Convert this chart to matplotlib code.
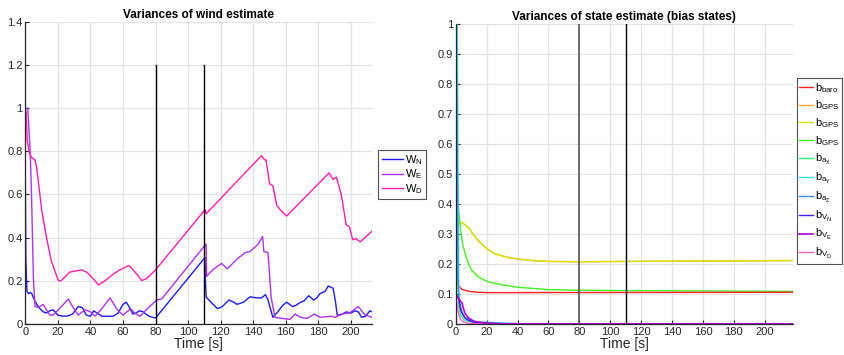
import numpy as np
import matplotlib
matplotlib.use("Agg")
import matplotlib.pyplot as plt

plt.rcParams['font.family'] = ['Liberation Sans', 'DejaVu Sans']
plt.rcParams['mathtext.fontset'] = 'custom'
plt.rcParams['mathtext.rm'] = 'Liberation Sans'
plt.rcParams['mathtext.it'] = 'Liberation Sans'

# ---- wind variances (left) ----
t_wn = [0, 0.3, 1, 2, 3, 4, 5, 7, 9, 11, 13, 15, 17, 20, 23, 26, 29, 32.5, 35, 37.5, 40, 42, 44, 47, 50, 54,
        57, 60, 62, 64, 66, 68, 70, 72.5, 74, 76, 78, 80, 110.3, 110.6, 111, 114, 118, 121, 125, 128, 130,
        134, 138, 142, 145, 147.5, 149, 150.5, 152, 155, 158, 160.5, 164, 166, 169, 171, 174, 177, 179, 181,
        184, 186, 188, 189, 190.5, 191.5, 194, 197, 200, 202.5, 204.5, 206.5, 209, 211.5, 213]
w_n = [0.68, 0.3, 0.15, 0.14, 0.145, 0.14, 0.12, 0.09, 0.07, 0.055, 0.05, 0.06, 0.065, 0.04, 0.035, 0.036,
       0.045, 0.08, 0.075, 0.04, 0.035, 0.06, 0.05, 0.035, 0.035, 0.035, 0.05, 0.09, 0.1, 0.075, 0.045,
       0.05, 0.06, 0.055, 0.045, 0.035, 0.03, 0.027, 0.307, 0.2, 0.125, 0.1, 0.07, 0.08, 0.11, 0.1, 0.09,
       0.1, 0.125, 0.12, 0.12, 0.135, 0.11, 0.07, 0.03, 0.055, 0.085, 0.1, 0.08, 0.085, 0.1, 0.105, 0.13,
       0.11, 0.12, 0.14, 0.15, 0.175, 0.168, 0.165, 0.1, 0.04, 0.042, 0.055, 0.05, 0.06, 0.055, 0.03,
       0.035, 0.06, 0.055]

t_we = [0, 1.5, 3, 3.8, 5, 6, 8, 11, 15, 17, 21, 26.4, 29, 32.5, 36.6, 40, 42.8, 47, 52, 56, 60, 64.7,
        67, 70.4, 75, 80.6, 83.7, 111, 111.3, 115, 120.5, 124, 130, 135, 138, 143, 145.7, 146.5, 149,
        151, 153.3, 157.5, 162.5, 165.6, 169, 173, 177.4, 181, 187.6, 190.5, 194, 199, 204.5, 208.6, 213]
w_e = [1.0, 1.0, 0.8, 0.6, 0.2, 0.08, 0.075, 0.09, 0.04, 0.04, 0.07, 0.115, 0.08, 0.04, 0.065, 0.055,
       0.035, 0.07, 0.12, 0.07, 0.04, 0.07, 0.05, 0.035, 0.07, 0.11, 0.115, 0.37, 0.22, 0.25, 0.28,
       0.255, 0.3, 0.33, 0.335, 0.37, 0.405, 0.335, 0.33, 0.12, 0.03, 0.025, 0.02, 0.045, 0.03, 0.025,
       0.045, 0.03, 0.035, 0.03, 0.045, 0.05, 0.08, 0.04, 0.03]

t_wd = [0, 0.5, 1.2, 2.5, 4, 6, 7, 7.4, 10, 13, 16, 20.3, 22, 27.4, 34.6, 37.6, 42.8, 44.8, 49, 54, 58,
        63.3, 64.5, 69.6, 71.4, 74.5, 80, 110.4, 111, 145, 147, 147.8, 150, 152, 154.4, 157.5, 160.5,
        186.5, 189, 191, 194, 197, 199, 201, 203, 205.6, 213]
w_d = [1.0, 0.98, 0.85, 0.79, 0.77, 0.76, 0.72, 0.7, 0.53, 0.4, 0.29, 0.2, 0.2, 0.24, 0.25, 0.24, 0.2,
       0.18, 0.2, 0.23, 0.25, 0.27, 0.265, 0.22, 0.2, 0.21, 0.25, 0.53, 0.51, 0.78, 0.76, 0.76, 0.65,
       0.64, 0.55, 0.52, 0.5, 0.7, 0.67, 0.68, 0.6, 0.46, 0.45, 0.39, 0.395, 0.38, 0.43]

# ---- bias state variances (right) ----
t_baro = [0, 0.5, 1, 2, 4, 7, 10, 15, 20, 30, 218]
b_baro = [0.68, 0.3, 0.135, 0.125, 0.115, 0.11, 0.107, 0.105, 0.104, 0.104, 0.105]
t_gps = [0, 0.5, 1, 1.5, 2, 4, 6, 8.7, 11, 15.2, 21, 25, 29.6, 35, 40, 50, 60, 80, 110, 150, 218]
b_gps_ne = [1.0, 0.6, 0.39, 0.34, 0.335, 0.338, 0.33, 0.319, 0.3, 0.274, 0.247, 0.235, 0.227, 0.22,
            0.216, 0.211, 0.208, 0.207, 0.208, 0.209, 0.211]
t_gpsd = [0, 1, 1.5, 3.2, 4.7, 6.8, 10, 15, 21, 30, 40, 60, 80, 100, 218]
b_gps_d = [1.0, 0.55, 0.4, 0.31, 0.26, 0.22, 0.18, 0.155, 0.14, 0.13, 0.122, 0.114, 0.112, 0.111, 0.108]
t_ax = [0, 0.3, 0.7, 1, 1.5, 2, 3, 5, 8, 12, 20, 30, 218]
b_ax = [1.0, 0.9, 0.6, 0.3, 0.12, 0.06, 0.03, 0.015, 0.008, 0.004, 0.001, 0, 0]
t_ay = [0, 1, 1.5, 2, 3, 5, 8, 12, 20, 30, 40, 218]
b_ay = [1.0, 1.0, 0.5, 0.1, 0.05, 0.025, 0.012, 0.008, 0.005, 0.003, 0, 0]
t_az = [0, 0.5, 1, 1.5, 2, 4, 6, 10, 15, 25, 218]
b_az = [1.0, 0.9, 0.5, 0.15, 0.08, 0.04, 0.02, 0.008, 0.003, 0, 0]
t_vn = [0, 1, 2, 3, 4, 6, 8, 12, 18, 30, 218]
b_vn = [0.1, 0.09, 0.08, 0.05, 0.035, 0.02, 0.012, 0.005, 0.002, 0, 0]
t_ve = [0, 1, 2, 3, 4, 5, 6, 8, 12, 18, 30, 218]
b_ve = [0.1, 0.09, 0.085, 0.075, 0.07, 0.05, 0.035, 0.02, 0.008, 0.003, 0, 0]
t_vd = [0, 1, 2, 3, 5, 8, 12, 218]
b_vd = [0.09, 0.06, 0.03, 0.015, 0.006, 0.002, 0, 0]

events = [80, 110]


def style_axes(ax):
    ax.grid(True, color='#e3e3e3', linewidth=0.9)
    ax.set_axisbelow(True)
    for s in ['top', 'right']:
        ax.spines[s].set_visible(False)
    for s in ['left', 'bottom']:
        ax.spines[s].set_color('#262626')
        ax.spines[s].set_linewidth(0.9)
    ax.tick_params(direction='in', length=3, labelsize=8, colors='#262626', pad=2)
    ax.set_xticks(np.arange(0, 201, 20))
    ax.set_xlabel('Time [s]', fontsize=10, labelpad=0, color='#262626')
    ax.yaxis.set_major_formatter(matplotlib.ticker.FormatStrFormatter('%g'))


fig = plt.figure(figsize=(8.44, 3.55), dpi=100)

# left: wind
ax1 = fig.add_axes([0.030, 0.088, 0.411, 0.850])
ax1.plot(t_wn, w_n, color='#1c1cf0', lw=1.0, label=r'$\mathregular{W_N}$')
ax1.plot(t_we, w_e, color='#b030f0', lw=1.0, label=r'$\mathregular{W_E}$')
ax1.plot(t_wd, w_d, color='#ff1cb0', lw=1.0, label=r'$\mathregular{W_D}$')
for e in events:
    ax1.plot([e, e], [0, 1.2], color='k', lw=1.0)
ax1.set_xlim(0, 213)
ax1.set_ylim(0, 1.4)
ax1.set_yticks(np.arange(0, 1.41, 0.2))
style_axes(ax1)
ax1.set_title('Variances of wind estimate', fontsize=8.5, fontweight='bold', pad=3)
ax1.legend(loc='upper left', bbox_to_anchor=(1.018, 0.576), fontsize=8, frameon=True, fancybox=False,
           edgecolor='#262626', handlelength=1.9, handletextpad=0.2, labelspacing=0.05,
           borderpad=0.3, borderaxespad=0).get_frame().set_linewidth(0.8)

# right: bias states
ax2 = fig.add_axes([0.540, 0.088, 0.399, 0.844])
ax2.plot(t_gps, b_gps_ne, color='#ffa830', lw=1.0, label=r'$\mathregular{b_{GPS}}$', zorder=2)
ax2.plot(t_gps, b_gps_ne, color='#d4e400', lw=1.0, label=r'$\mathregular{b_{GPS}}$', zorder=2)
ax2.plot(t_gpsd, b_gps_d, color='#40f020', lw=1.0, label=r'$\mathregular{b_{GPS}}$', zorder=2)
ax2.plot(t_baro, b_baro, color='#ff2020', lw=1.0, label=r'$\mathregular{b_{baro}}$', zorder=2)
ax2.plot(t_ax, b_ax, color='#30f080', lw=1.0, label=r'$\mathregular{b_{a_X}}$', zorder=2)
ax2.plot(t_ay, b_ay, color='#30e0f0', lw=1.0, label=r'$\mathregular{b_{a_Y}}$', zorder=2)
ax2.plot(t_az, b_az, color='#3c8cff', lw=1.0, label=r'$\mathregular{b_{a_Z}}$', zorder=2)
ax2.plot(t_vn, b_vn, color='#3a20f0', lw=1.0, label=r'$\mathregular{b_{V_N}}$', zorder=2)
ax2.plot(t_vd, b_vd, color='#ff60c0', lw=1.0, label=r'$\mathregular{b_{V_D}}$', zorder=2)
ax2.plot(t_ve, b_ve, color='#b000d8', lw=1.2, label=r'$\mathregular{b_{V_E}}$', zorder=2)
ax2.axvline(events[0], color='#555555', lw=1.2, zorder=3)
ax2.axvline(events[1], color='k', lw=1.0, zorder=3)
ax2.set_xlim(0, 218)
ax2.set_ylim(0, 1)
ax2.set_yticks(np.arange(0, 1.01, 0.1))
style_axes(ax2)
ax2.set_title('Variances of state estimate (bias states)', fontsize=8.5, fontweight='bold', pad=3)

handles, labels = ax2.get_legend_handles_labels()
order = [3, 0, 1, 2, 4, 5, 6, 7, 9, 8]
leg = ax2.legend([handles[i] for i in order], [labels[i] for i in order], loc='upper left',
                 bbox_to_anchor=(1.012, 0.82), fontsize=8, frameon=True, fancybox=False,
                 edgecolor='#262626', handlelength=1.2, handletextpad=0.2, labelspacing=0.35,
                 borderpad=0.25, borderaxespad=0)
leg.get_frame().set_linewidth(0.8)

fig.savefig('out.png', dpi=100)
